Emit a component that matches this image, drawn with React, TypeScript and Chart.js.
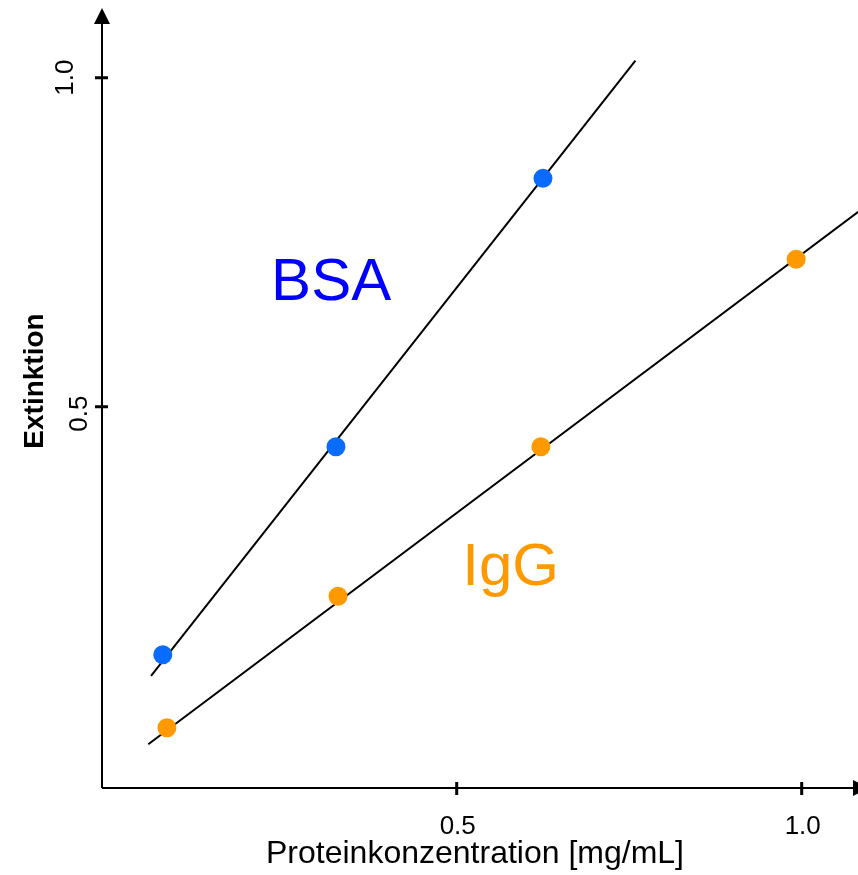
import React, { useEffect, useRef } from "react";
import { Chart, registerables } from "chart.js";

Chart.register(...registerables);

// Measured data
const bsaX = [0.074, 0.325, 0.625];
const bsaY = [0.123, 0.439, 0.847];
const iggX = [0.08, 0.328, 0.622, 0.992];
const iggY = [0.012, 0.212, 0.439, 0.724];

// Regression lines (start / end)
const bsaFitX = [0.057, 0.759];
const bsaFitY = [0.091, 1.026];
const iggFitX = [0.053, 1.082];
const iggFitY = [-0.013, 0.796];

// Tick values & labels
const xTicks = [0.5, 1.0];
const xTickLabels = ["0.5", "1.0"];
const yTicks = [0.5, 1.0];
const yTickLabels = ["0.5", "1.0"];

// Series labels (in data coordinates)
const seriesNames = ["BSA", "IgG"];
const seriesLabelX = [0.231, 0.508];
const seriesLabelY = [0.662, 0.229];

const xTitle = "Proteinkonzentration [mg/mL]";
const yTitle = "Extinktion";

const BLUE_DOT = "#0a6cff";
const ORANGE = "#ff9900";
const BLUE_TEXT = "#0000ff";
const FONT = "'Liberation Sans', Arial, Helvetica, sans-serif";

const toPts = (xs: number[], ys: number[]) => xs.map((x, i) => ({ x, y: ys[i] }));

const axesPlugin = {
  id: "customAxes",
  afterDatasetsDraw(chart: any) {
    const ctx = chart.ctx as CanvasRenderingContext2D;
    const xs = chart.scales.x;
    const ys = chart.scales.y;
    const area = chart.chartArea;
    const left = area.left;
    const bottom = area.bottom;
    ctx.save();
    ctx.strokeStyle = "#000";
    ctx.fillStyle = "#000";
    ctx.lineWidth = 2;
    // axes lines
    ctx.beginPath();
    ctx.moveTo(left, bottom);
    ctx.lineTo(left, area.top + 12);
    ctx.moveTo(left, bottom);
    ctx.lineTo(area.right - 4, bottom);
    ctx.stroke();
    // arrows
    ctx.beginPath();
    ctx.moveTo(left, area.top);
    ctx.lineTo(left - 8, area.top + 16);
    ctx.lineTo(left + 8, area.top + 16);
    ctx.closePath();
    ctx.fill();
    ctx.beginPath();
    ctx.moveTo(area.right + 11, bottom);
    ctx.lineTo(area.right - 5, bottom - 8);
    ctx.lineTo(area.right - 5, bottom + 8);
    ctx.closePath();
    ctx.fill();
    // ticks
    ctx.lineWidth = 3;
    ctx.beginPath();
    xTicks.forEach((v) => {
      const px = xs.getPixelForValue(v);
      ctx.moveTo(px, bottom - 6);
      ctx.lineTo(px, bottom + 7);
    });
    yTicks.forEach((v) => {
      const py = ys.getPixelForValue(v);
      ctx.moveTo(left - 7, py);
      ctx.lineTo(left + 6, py);
    });
    ctx.stroke();
    // tick labels
    ctx.font = `26px ${FONT}`;
    ctx.textAlign = "center";
    ctx.textBaseline = "alphabetic";
    xTicks.forEach((v, i) => {
      const px = xs.getPixelForValue(v);
      ctx.fillText(xTickLabels[i], px + 1, bottom + 46);
    });
    const yLabelOffsets = [
      { dx: -15, dy: 7 },
      { dx: -29, dy: 0 },
    ];
    yTicks.forEach((v, i) => {
      const py = ys.getPixelForValue(v);
      ctx.save();
      ctx.translate(left + yLabelOffsets[i].dx, py + yLabelOffsets[i].dy);
      ctx.rotate(-Math.PI / 2);
      ctx.fillText(yTickLabels[i], 0, 0);
      ctx.restore();
    });
    // axis titles
    ctx.font = `32px ${FONT}`;
    ctx.fillText(xTitle, 475, 863);
    ctx.save();
    ctx.font = `bold 28px ${FONT}`;
    ctx.translate(43, 381);
    ctx.rotate(-Math.PI / 2);
    ctx.fillText(yTitle, 0, 0);
    ctx.restore();
    // series labels
    ctx.font = `60px ${FONT}`;
    ctx.textAlign = "left";
    const colors = [BLUE_TEXT, ORANGE];
    seriesNames.forEach((name, i) => {
      ctx.fillStyle = colors[i];
      ctx.fillText(name, xs.getPixelForValue(seriesLabelX[i]), ys.getPixelForValue(seriesLabelY[i]));
    });
    ctx.restore();
  },
};

export default function App() {
  const ref = useRef<HTMLCanvasElement | null>(null);
  useEffect(() => {
    if (!ref.current) return;
    const chart = new Chart(ref.current, {
      type: "scatter",
      data: {
        datasets: [
          {
            label: "BSA",
            data: toPts(bsaX, bsaY),
            backgroundColor: BLUE_DOT,
            borderColor: BLUE_DOT,
            pointRadius: 9.5,
            pointBorderWidth: 0,
            showLine: false,
            order: 0,
            clip: false,
          },
          {
            label: "IgG",
            data: toPts(iggX, iggY),
            backgroundColor: ORANGE,
            borderColor: ORANGE,
            pointRadius: 9.5,
            pointBorderWidth: 0,
            showLine: false,
            order: 0,
            clip: false,
          },
          {
            label: "BSA fit",
            data: toPts(bsaFitX, bsaFitY),
            borderColor: "#000",
            borderWidth: 2,
            pointRadius: 0,
            showLine: true,
            order: 1,
            clip: false,
          },
          {
            label: "IgG fit",
            data: toPts(iggFitX, iggFitY),
            borderColor: "#000",
            borderWidth: 2,
            pointRadius: 0,
            showLine: true,
            order: 1,
            clip: false,
          },
        ],
      },
      options: {
        animation: false,
        responsive: false,
        devicePixelRatio: 1,
        layout: { autoPadding: false, padding: { left: 102, right: 0, top: 8, bottom: 87 } },
        plugins: {
          legend: { display: false },
          tooltip: { enabled: false },
        },
        scales: {
          x: { type: "linear", display: false, min: -0.0141, max: 1.0816 },
          y: { type: "linear", display: false, min: -0.0795, max: 1.1059 },
        },
      },
      plugins: [axesPlugin],
    });
    return () => chart.destroy();
  }, []);
  return (
    <div style={{ position: "fixed", left: 0, top: 0, width: 858, height: 875, background: "#fff" }}>
      <canvas ref={ref} width={858} height={875} style={{ display: "block", width: 858, height: 875 }} />
    </div>
  );
}
